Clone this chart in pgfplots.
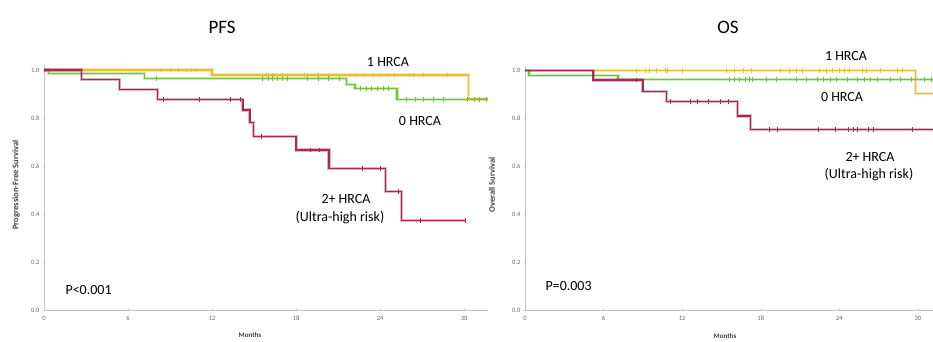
\documentclass[border=0pt]{standalone}
\usepackage{pgfplots}
\pgfplotsset{compat=1.18}
\usepackage{fontspec}
\setmainfont{Carlito}
\definecolor{kmred}{RGB}{170,40,85}
\definecolor{kmorange}{RGB}{235,190,50}
\definecolor{kmgreen}{RGB}{115,195,55}
\definecolor{axgray}{RGB}{195,195,195}
\pgfplotsset{
  kmaxis/.style={
    scale only axis,
    axis lines=left,
    axis line style={axgray,-,line width=0.8pt},
    ymin=0, ymax=1.02,
    xmin=0,
    xtick={0,6,12,18,24,30},
    ytick={0,0.2,0.4,0.6,0.8,1.0},
    yticklabel style={/pgf/number format/fixed,/pgf/number format/fixed zerofill,/pgf/number format/precision=1},
    /pgf/number format/assume math mode=true,
    ticklabel style={font=\fontsize{6.5}{7}\selectfont, text=black!60},
    xticklabel style={yshift=-2pt},
    tick style={axgray},
    major tick length=2pt,
    clip=false,
  },
  kmline/.style={const plot, line width=1.3pt, mark=none,
    preaction={draw, line width=3.2pt, draw opacity=0.35}},
  kmcens/.style={only marks, mark=|, mark size=2.4pt, mark options={line width=0.9pt}},
}
\begin{document}
\begin{tikzpicture}[x=1pt,y=1pt]
\path[use as bounding box] (0,0) rectangle (933,341);
% ---------------- PFS ----------------
\begin{axis}[kmaxis, at={(44pt,31pt)}, anchor=origin, width=444pt, height=244.8pt, xmax=31.7]
% 1 HRCA
\addplot[kmline, color=kmorange] coordinates {(0,1.0) (12.0,0.979) (30.3,0.882) (31.7,0.882)};
\addplot[kmcens, color=kmorange] coordinates {(8.4,1.0) (9.0,1.0) (9.6,1.0) (10.2,1.0) (10.5,1.0) (10.8,1.0)
 (15.9,0.979) (16.4,0.979) (17.0,0.979) (18.6,0.979) (19.5,0.979) (20.4,0.979)
 (22.3,0.979) (22.9,0.979) (23.5,0.979) (24.0,0.979) (24.5,0.979) (25.0,0.979) (26.1,0.979) (26.4,0.979) (27.1,0.979) (28.8,0.979)};
% 0 HRCA
\addplot[kmline, color=kmgreen] coordinates {(0,1.0) (0.3,0.986) (7.2,0.965) (21.6,0.94) (22.2,0.924) (25.2,0.878) (31.7,0.878)};
\addplot[kmcens, color=kmgreen] coordinates {(8.0,0.965) (15.6,0.965) (16.0,0.965) (16.3,0.965) (16.7,0.965) (17.0,0.965) (17.4,0.965)
 (18.8,0.965) (19.6,0.965) (20.3,0.965) (21.1,0.965)
 (22.6,0.924) (23.0,0.924) (23.4,0.924) (23.8,0.924) (24.2,0.924) (24.6,0.924)
 (25.9,0.878) (26.5,0.878) (27.1,0.878) (27.8,0.878) (28.5,0.878) (30.2,0.878) (30.7,0.878) (31.1,0.878) (31.6,0.878)};
% 2+ HRCA
\addplot[kmline, color=kmred] coordinates {(0,1.0) (2.7,0.961) (5.4,0.92) (8.1,0.878) (14.2,0.833) (14.7,0.78) (14.95,0.722) (18.0,0.667) (20.35,0.59) (24.4,0.493) (25.5,0.372) (30.1,0.372)};
\addplot[kmcens, color=kmred] coordinates {(8.5,0.878) (11.1,0.878) (13.3,0.878) (14.0,0.878) (15.5,0.722) (19.0,0.667) (19.7,0.667)
 (22.7,0.59) (24.0,0.59) (25.3,0.493) (26.9,0.372) (30.1,0.372)};
\end{axis}
% ---------------- OS ----------------
\begin{axis}[kmaxis, at={(525pt,31pt)}, anchor=origin, width=408pt, height=244.3pt, xmax=31.15]
% 1 HRCA
\addplot[kmline, color=kmorange] coordinates {(0,1.0) (29.8,0.905) (31.15,0.905)};
\addplot[kmcens, color=kmorange] coordinates {(8.5,1) (9.2,1) (9.5,1) (10.0,1) (10.7,1) (10.9,1) (12.0,1) (15.4,1) (16.0,1) (16.7,1) (17.3,1)
 (19.5,1) (20.2,1) (20.7,1) (21.2,1) (22.5,1) (23.0,1) (23.5,1) (24.0,1) (24.4,1) (24.8,1) (25.8,1) (26.1,1) (27.1,1) (28.4,1) (28.8,1)};
% 0 HRCA
\addplot[kmline, color=kmgreen] coordinates {(0,1.0) (0.3,0.98) (7.1,0.963) (31.15,0.963)};
\addplot[kmcens, color=kmgreen] coordinates {(15.6,0.963) (16.0,0.963) (16.4,0.963) (16.8,0.963) (17.1,0.963) (17.4,0.963) (18.4,0.963) (19.2,0.963)
 (20.7,0.963) (21.5,0.963) (22.3,0.963) (22.8,0.963) (23.3,0.963) (23.8,0.963) (24.6,0.963) (25.4,0.963) (25.9,0.963) (26.4,0.963) (26.9,0.963)
 (27.9,0.963) (28.7,0.963) (29.5,0.963) (30.5,0.963) (31.0,0.963)};
% 2+ HRCA
\addplot[kmline, color=kmred] coordinates {(0,1.0) (5.2,0.96) (9.0,0.912) (10.8,0.87) (16.2,0.81) (17.2,0.754) (31.15,0.754)};
\addplot[kmcens, color=kmred] coordinates {(8.5,0.96) (11.1,0.87) (12.6,0.87) (13.2,0.87) (14.0,0.87) (14.9,0.87) (15.5,0.87)
 (18.7,0.754) (19.3,0.754) (22.4,0.754) (23.7,0.754) (24.7,0.754) (25.1,0.754) (25.4,0.754) (26.2,0.754) (26.6,0.754) (29.6,0.754)};
\end{axis}
% ---------------- texts ----------------
\node[font=\fontsize{19}{21}\selectfont] at (222,314) {PFS};
\node[font=\fontsize{19}{21}\selectfont] at (728,314) {OS};
\begin{scope}[every node/.style={font=\fontsize{8.5}{9}\selectfont\bfseries, text=black!75}]
\node[rotate=90] at (16,156) {Progression-Free Survival};
\node[rotate=90] at (492,156) {Overall Survival};
\node[font=\fontsize{7}{8}\selectfont\bfseries] at (250,6) {Months};
\node[font=\fontsize{7}{8}\selectfont\bfseries] at (725,5) {Months};
\end{scope}
\begin{scope}[every node/.style={font=\fontsize{14}{16}\selectfont}]
\node at (388,279) {1 HRCA};
\node at (420,220) {0 HRCA};
\node at (346,142) {2+ HRCA};
\node at (340,123) {(Ultra-high risk)};
\node[anchor=west] at (62,51) {P<0.001};
\node at (846,285) {1 HRCA};
\node at (842,244) {0 HRCA};
\node at (870,184) {2+ HRCA};
\node at (869,166) {(Ultra-high risk)};
\node[anchor=west] at (542,55) {P=0.003};
\end{scope}
\end{tikzpicture}
\end{document}
